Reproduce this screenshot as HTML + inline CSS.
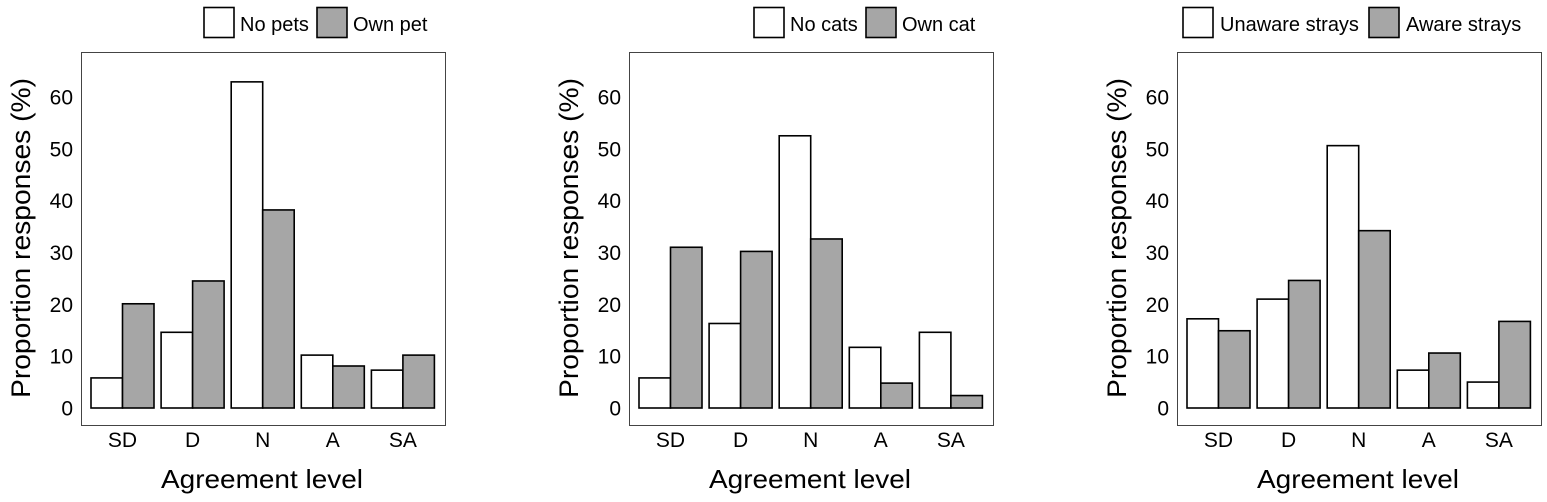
<!DOCTYPE html>
<html><head><meta charset="utf-8"><style>
html,body{margin:0;padding:0;background:#fff;}
svg{display:block;font-family:"Liberation Sans",Arial,sans-serif;}
</style></head><body>
<svg id="s" width="1547" height="502" viewBox="0 0 1547 502" xmlns="http://www.w3.org/2000/svg"></svg>
<script>
const data=[
 {leg:["No pets","Own pet"],lx:[204,240,317,353],w:[[5.8,20.1],[14.6,24.5],[62.9,38.2],[10.2,8.1],[7.3,10.2]]},
 {leg:["No cats","Own cat"],lx:[754,790,866,902],w:[[5.8,31.0],[16.3,30.2],[52.5,32.6],[11.7,4.8],[14.6,2.4]]},
 {leg:["Unaware strays","Aware strays"],lx:[1183,1220,1369,1406],w:[[17.2,14.9],[21.0,24.6],[50.6,34.2],[7.3,10.6],[5.0,16.7]]}
];
let h='';
const base=408, k=5.185, cats=["SD","D","N","A","SA"];
data.forEach((p,i)=>{
 const o=548*i;
 h+=`<rect x="${81.5+o}" y="52.5" width="364" height="373" fill="none" stroke="#444" stroke-width="1"/>`;
 for(let t=0;t<=60;t+=10){h+=`<text x="${73+o}" y="${base-t*k+7.5}" font-size="21" text-anchor="end" fill="#000">${t}</text>`;}
 p.w.forEach((v,j)=>{
   const c=122.5+70.1*j+o;
   h+=`<rect x="${c-31.5}" y="${base-v[0]*k}" width="31.5" height="${v[0]*k}" fill="#fff" stroke="#000" stroke-width="1.6"/>`;
   h+=`<rect x="${c}" y="${base-v[1]*k}" width="31.5" height="${v[1]*k}" fill="#a6a6a6" stroke="#000" stroke-width="1.6"/>`;
   h+=`<text x="${c}" y="447" font-size="21" text-anchor="middle">${cats[j]}</text>`;
 });
 h+=`<text x="${262+o}" y="488" font-size="26" text-anchor="middle" textLength="202" lengthAdjust="spacingAndGlyphs">Agreement level</text>`;
 h+=`<text transform="translate(${30+o},238) rotate(-90)" font-size="27" text-anchor="middle" textLength="320" lengthAdjust="spacingAndGlyphs">Proportion responses (%)</text>`;
 const L=p.lx;
 h+=`<rect x="${L[0]}" y="7.5" width="30" height="30" fill="#fff" stroke="#000" stroke-width="1.6"/>`;
 h+=`<text x="${L[1]}" y="31" font-size="20">${p.leg[0]}</text>`;
 h+=`<rect x="${L[2]}" y="7.5" width="30" height="30" fill="#a6a6a6" stroke="#000" stroke-width="1.6"/>`;
 h+=`<text x="${L[3]}" y="31" font-size="20">${p.leg[1]}</text>`;
});
document.getElementById('s').innerHTML=h;
</script>
</body></html>
